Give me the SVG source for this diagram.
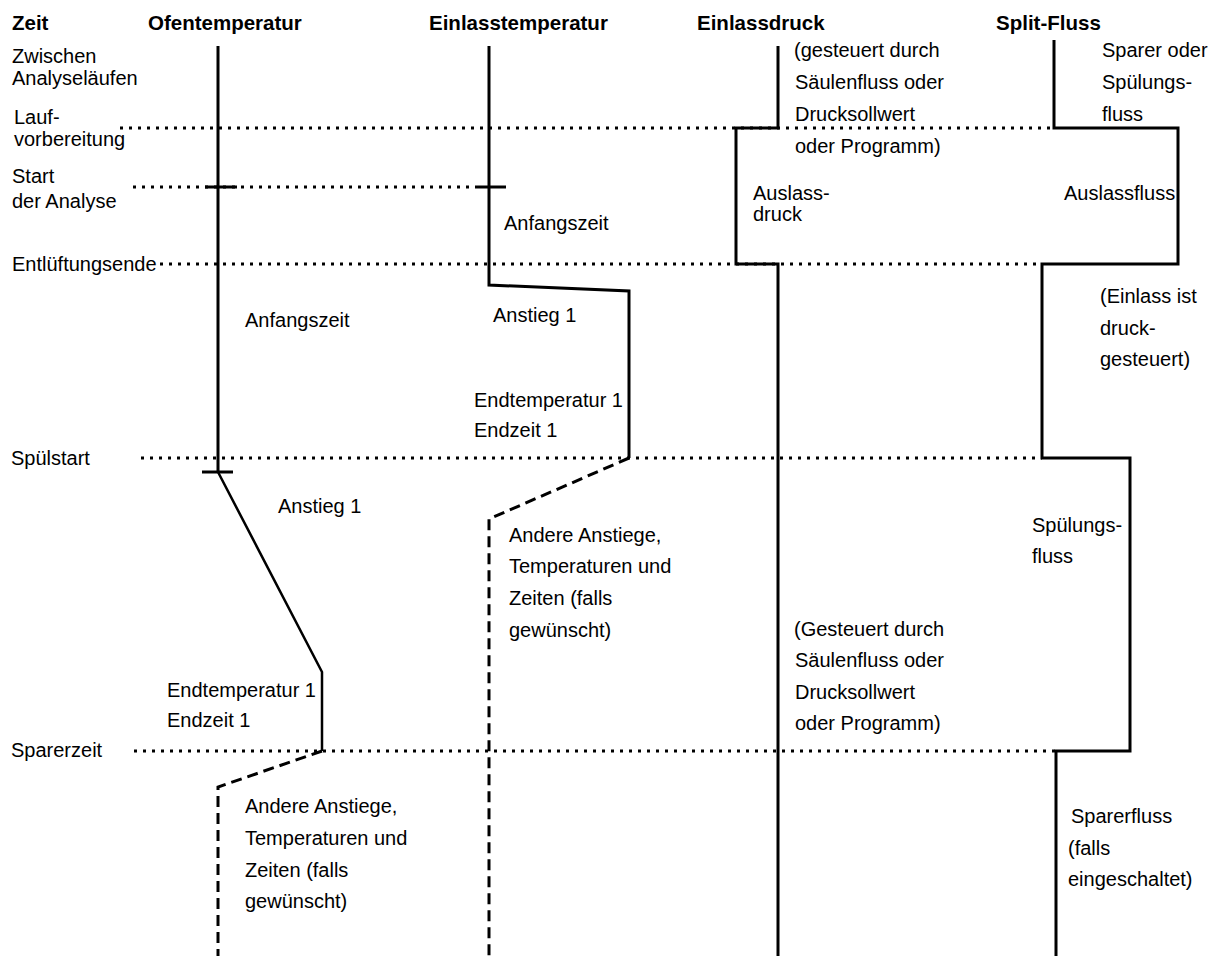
<svg xmlns="http://www.w3.org/2000/svg" width="1214" height="956" viewBox="0 0 1214 956">
<style>
text{font-family:"Liberation Sans",Arial,sans-serif;font-size:20px;fill:#000}
.h{font-weight:bold;font-size:20.5px}
.s{fill:none;stroke:#000;stroke-width:3;stroke-linejoin:miter}
.t{fill:none;stroke:#000;stroke-width:2.5}
.d{fill:none;stroke:#000;stroke-width:3;stroke-dasharray:11 6}
.o{fill:none;stroke:#000;stroke-width:3;stroke-dasharray:3 6}
</style>
<rect width="1214" height="956" fill="#fff"/>
<g id="guides">
<line class="o" x1="120" y1="128" x2="1054" y2="128"/>
<line class="o" x1="133" y1="187" x2="476" y2="187"/>
<line class="o" x1="160" y1="264" x2="1042" y2="264"/>
<line class="o" x1="141" y1="458" x2="1042" y2="458"/>
<line class="o" x1="134" y1="751" x2="1056" y2="751"/>
</g>
<g id="zeit">
<text class="h" x="12" y="30">Zeit</text>
<text x="12" y="63">Zwischen</text>
<text x="12" y="85">Analyseläufen</text>
<text x="14" y="124">Lauf-</text>
<text x="14" y="146">vorbereitung</text>
<text x="12" y="183">Start</text>
<text x="12" y="208">der Analyse</text>
<text x="12" y="271">Entlüftungsende</text>
<text x="11" y="465">Spülstart</text>
<text x="11" y="757">Sparerzeit</text>
</g>
<g id="ofentemperatur">
<text class="h" x="148" y="30">Ofentemperatur</text>
<polyline class="s" points="218,46 218,472"/>
<line class="s" x1="205" y1="187" x2="237" y2="187"/>
<line class="s" x1="202" y1="472" x2="233" y2="472"/>
<polyline class="t" points="218,472 322,672 322,751"/>
<polyline class="d" points="322,751 218,787 218,956"/>
<text x="245" y="327">Anfangszeit</text>
<text x="278" y="513">Anstieg 1</text>
<text x="167" y="697">Endtemperatur 1</text>
<text x="167" y="727">Endzeit 1</text>
<text x="245" y="813">Andere Anstiege,</text>
<text x="245" y="845">Temperaturen und</text>
<text x="245" y="877">Zeiten (falls</text>
<text x="245" y="908">gewünscht)</text>
</g>
<g id="einlasstemperatur">
<text class="h" x="429" y="30">Einlasstemperatur</text>
<polyline class="s" points="489,46 489,285 629,291 629,458"/>
<line class="s" x1="476" y1="187" x2="506" y2="187"/>
<polyline class="d" points="629,458 489,519 489,956"/>
<text x="504" y="230">Anfangszeit</text>
<text x="493" y="322">Anstieg 1</text>
<text x="474" y="407">Endtemperatur 1</text>
<text x="474" y="437">Endzeit 1</text>
<text x="509" y="542">Andere Anstiege,</text>
<text x="509" y="573">Temperaturen und</text>
<text x="509" y="605">Zeiten (falls</text>
<text x="509" y="637">gewünscht)</text>
</g>
<g id="einlassdruck">
<text class="h" x="697" y="30">Einlassdruck</text>
<polyline class="s" points="778,46 778,128 736,128 736,264 778,264 778,956"/>
<text x="794" y="57">(gesteuert durch</text>
<text x="795" y="89">Säulenfluss oder</text>
<text x="795" y="121">Drucksollwert</text>
<text x="795" y="153">oder Programm)</text>
<text x="753" y="200">Auslass-</text>
<text x="753" y="221">druck</text>
<text x="794" y="636">(Gesteuert durch</text>
<text x="795" y="667">Säulenfluss oder</text>
<text x="795" y="699">Drucksollwert</text>
<text x="795" y="730">oder Programm)</text>
</g>
<g id="split-fluss">
<text class="h" x="996" y="30">Split-Fluss</text>
<polyline class="s" points="1054,40 1054,128 1178,128 1178,264 1042,264 1042,458 1130,458 1130,751 1056,751 1056,956"/>
<text x="1102" y="57">Sparer oder</text>
<text x="1102" y="89">Spülungs-</text>
<text x="1102" y="121">fluss</text>
<text x="1064" y="200">Auslassfluss</text>
<text x="1100" y="303">(Einlass ist</text>
<text x="1100" y="335">druck-</text>
<text x="1100" y="366">gesteuert)</text>
<text x="1032" y="532">Spülungs-</text>
<text x="1032" y="563">fluss</text>
<text x="1071" y="823">Sparerfluss</text>
<text x="1068" y="855">(falls</text>
<text x="1068" y="886">eingeschaltet)</text>
</g>
</svg>
